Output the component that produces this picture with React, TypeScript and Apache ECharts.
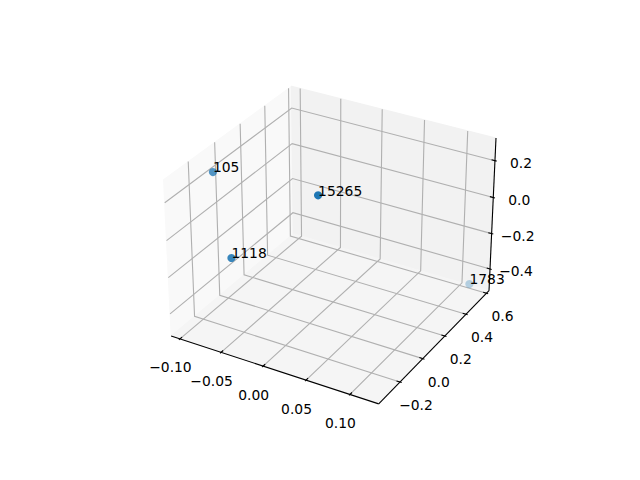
import React, { useEffect, useRef } from "react";
import * as echarts from "echarts";

const xLim = [-0.106, 0.1273];
const yLim = [-0.36, 0.605];
const zLim = [-0.508, 0.304];

const xTicks = [-0.1, -0.05, 0, 0.05, 0.1];
const yTicks = [-0.2, 0, 0.2, 0.4, 0.6];
const zTicks = [-0.4, -0.2, 0, 0.2];
const xTickLabels = ["−0.10", "−0.05", "0.00", "0.05", "0.10"];
const yTickLabels = ["−0.2", "0.0", "0.2", "0.4", "0.6"];
const zTickLabels = ["−0.4", "−0.2", "0.0", "0.2"];

const pointLabels = ["105", "15265", "1118", "1783"];
const pointX = [-0.0954, 0.0257, -0.0443, 0.1162];
const pointY = [-0.1157, -0.106, -0.316, 0.561];
const pointZ = [0.2415, 0.267, -0.039, -0.471];

const FONT = '"DejaVu Sans"';
const FONT_SIZE = 13.89;
const BOX = [1.1428, 1.1428, 0.857];
const PAD = 1 / 48;

type V3 = [number, number, number];

// Matplotlib's default view: elev 30, azim -60, dist 10, focal length 1.
function projectNorm(n: V3) {
  const qx = (n[0] - 0.5) * BOX[0];
  const qy = (n[1] - 0.5) * BOX[1];
  const qz = (n[2] - 0.5) * BOX[2];
  const u = 0.866025 * qx + 0.5 * qy;
  const v = -0.25 * qx + 0.433013 * qy + 0.866025 * qz;
  const w = 0.433013 * qx - 0.75 * qy + 0.5 * qz;
  const f = 10 / (10 - w);
  return { px: 333 + 199.78 * u * f, py: 237.4 - 199.78 * v * f, w };
}
const nx = (x: number) => (x - xLim[0]) / (xLim[1] - xLim[0]);
const ny = (y: number) => (y - yLim[0]) / (yLim[1] - yLim[0]);
const nz = (z: number) => (z - zLim[0]) / (zLim[1] - zLim[0]);
const P = (n: V3): [number, number] => {
  const p = projectNorm(n);
  return [p.px, p.py];
};

const LO = -PAD;
const HI = 1 + PAD;
const TICK_IN = 0.2 / 12;
const TICK_OUT = 0.1 / 12;

type Shape = { pts: [number, number][]; color: string; width: number };

const panes: { pts: [number, number][]; color: string }[] = [
  { pts: [[LO, LO, LO], [LO, HI, LO], [LO, HI, HI], [LO, LO, HI]].map((c) => P(c as V3)), color: "#f9f9f9" },
  { pts: [[LO, HI, LO], [HI, HI, LO], [HI, HI, HI], [LO, HI, HI]].map((c) => P(c as V3)), color: "#f2f2f2" },
  { pts: [[LO, LO, LO], [HI, LO, LO], [HI, HI, LO], [LO, HI, LO]].map((c) => P(c as V3)), color: "#f5f5f5" },
];

const GRID = "#b0b0b0";
const lines: Shape[] = [];
xTicks.forEach((t) => {
  const n = nx(t);
  lines.push({ pts: [P([n, LO, LO]), P([n, HI, LO]), P([n, HI, HI])], color: GRID, width: 1.11 });
});
yTicks.forEach((t) => {
  const n = ny(t);
  lines.push({ pts: [P([HI, n, LO]), P([LO, n, LO]), P([LO, n, HI])], color: GRID, width: 1.11 });
});
zTicks.forEach((t) => {
  const n = nz(t);
  lines.push({ pts: [P([LO, LO, n]), P([LO, HI, n]), P([HI, HI, n])], color: GRID, width: 1.11 });
});
// axis lines
lines.push({ pts: [P([LO, LO, LO]), P([HI, LO, LO])], color: "#000", width: 1.11 });
lines.push({ pts: [P([HI, LO, LO]), P([HI, HI, LO])], color: "#000", width: 1.11 });
lines.push({ pts: [P([HI, HI, LO]), P([HI, HI, HI])], color: "#000", width: 1.11 });
// tick marks
xTicks.forEach((t) => {
  const n = nx(t);
  lines.push({ pts: [P([n, LO - TICK_OUT, LO]), P([n, LO + TICK_IN, LO])], color: "#000", width: 1.11 });
});
yTicks.forEach((t) => {
  const n = ny(t);
  lines.push({ pts: [P([HI + TICK_OUT, n, LO]), P([HI - TICK_IN, n, LO])], color: "#000", width: 1.11 });
});
zTicks.forEach((t) => {
  const n = nz(t);
  lines.push({ pts: [P([HI + TICK_OUT, HI, n]), P([HI - TICK_IN, HI, n])], color: "#000", width: 1.11 });
});

type Label = { x: number; y: number; text: string; align: string };
const labels: Label[] = [];
xTicks.forEach((t, i) => {
  const p = P([nx(t), LO, LO]);
  labels.push({ x: p[0] - 9.5, y: p[1] + 28.5, text: xTickLabels[i], align: "center" });
});
yTicks.forEach((t, i) => {
  const p = P([HI, ny(t), LO]);
  labels.push({ x: p[0] + 16, y: p[1] + 23, text: yTickLabels[i], align: "center" });
});
zTicks.forEach((t, i) => {
  const p = P([HI, HI, nz(t)]);
  labels.push({ x: p[0] + 26, y: p[1] + 2.5, text: zTickLabels[i], align: "center" });
});

const points = pointLabels.map((_, i) => projectNorm([nx(pointX[i]), ny(pointY[i]), nz(pointZ[i])]));
const depths = points.map((p) => p.w);
const dMin = Math.min(...depths);
const dMax = Math.max(...depths);
const pointAlpha = depths.map((d) => 1 - ((dMax - d) / (dMax - dMin)) * 0.7);

export default function App() {
  const ref = useRef<HTMLDivElement>(null);
  useEffect(() => {
    if (!ref.current) return;
    const chart = echarts.init(ref.current, undefined, { renderer: "svg" });
    chart.setOption({
      animation: false,
      backgroundColor: "#fff",
      grid: { left: 0, right: 0, top: 0, bottom: 0 },
      xAxis: { type: "value", min: 0, max: 640, show: false },
      yAxis: { type: "value", min: 0, max: 480, inverse: true, show: false },
      series: [
        {
          type: "custom",
          silent: true,
          z: 1,
          clip: false,
          data: panes.map((_, i) => [i]),
          encode: { x: [], y: [] },
          renderItem: (params: any, api: any) => {
            const s = panes[params.dataIndex];
            return {
              type: "polygon",
              shape: { points: s.pts.map((p) => api.coord(p)) },
              style: { fill: s.color, stroke: s.color, lineWidth: 1 },
            };
          },
        },
        {
          type: "custom",
          silent: true,
          z: 2,
          clip: false,
          data: lines.map((_, i) => [i]),
          encode: { x: [], y: [] },
          renderItem: (params: any, api: any) => {
            const s = lines[params.dataIndex];
            return {
              type: "polyline",
              shape: { points: s.pts.map((p) => api.coord(p)) },
              style: { fill: "none", stroke: s.color, lineWidth: s.width },
            };
          },
        },
        {
          type: "custom",
          silent: true,
          z: 3,
          clip: false,
          data: labels.map((_, i) => [i]),
          encode: { x: [], y: [] },
          renderItem: (params: any, api: any) => {
            const s = labels[params.dataIndex];
            const c = api.coord([s.x, s.y]);
            return {
              type: "text",
              x: c[0],
              y: c[1],
              style: {
                text: s.text,
                fill: "#000",
                font: `${FONT_SIZE}px ${FONT}`,
                align: s.align,
                verticalAlign: "middle",
              },
            };
          },
        },
        {
          type: "scatter",
          silent: true,
          z: 4,
          symbol: "circle",
          symbolSize: 8.2,
          clip: false,
          data: points.map((p, i) => ({
            value: [p.px, p.py],
            itemStyle: { color: "#1f77b4", opacity: pointAlpha[i] },
          })),
        },
        {
          type: "custom",
          silent: true,
          z: 5,
          clip: false,
          data: points.map((_, i) => [i]),
          encode: { x: [], y: [] },
          renderItem: (params: any, api: any) => {
            const p = points[params.dataIndex];
            const c = api.coord([p.px, p.py]);
            return {
              type: "text",
              x: c[0],
              y: c[1] - 4.7,
              style: {
                text: pointLabels[params.dataIndex],
                fill: "#000",
                font: `${FONT_SIZE}px ${FONT}`,
                align: "left",
                verticalAlign: "middle",
              },
            };
          },
        },
      ],
    });
    return () => chart.dispose();
  }, []);
  return <div ref={ref} style={{ position: "fixed", left: 0, top: 0, width: 640, height: 480 }} />;
}
